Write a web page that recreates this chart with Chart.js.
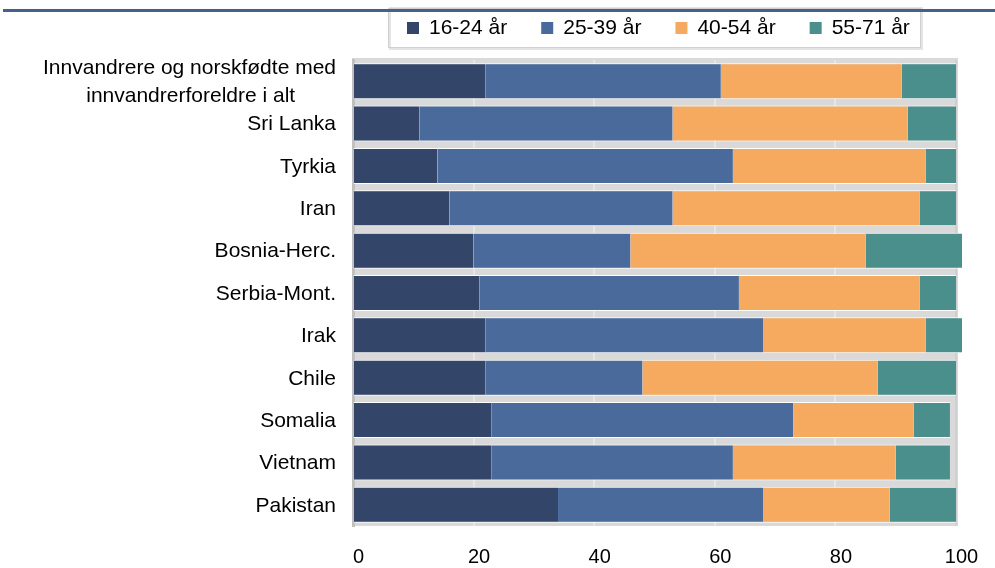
<!DOCTYPE html>
<html>
<head>
<meta charset="utf-8">
<script src="https://cdn.jsdelivr.net/npm/chart.js@4"></script>
<style>
  html, body { margin: 0; padding: 0; background: #fff; }
  #wrap { width: 995px; height: 568px; }
</style>
</head>
<body>
<div id="wrap"><canvas id="chart" width="995" height="568"></canvas></div>
<script>
// categories (top to bottom)
const categories = [
  ['Innvandrere og norskfødte med', 'innvandrerforeldre i alt'],
  'Sri Lanka', 'Tyrkia', 'Iran', 'Bosnia-Herc.', 'Serbia-Mont.',
  'Irak', 'Chile', 'Somalia', 'Vietnam', 'Pakistan'
];
const seriesNames = ['16-24 år', '25-39 år', '40-54 år', '55-71 år'];
const age16_24 = [22, 11, 14, 16, 20, 21, 22, 22, 23, 23, 34];
const age25_39 = [39, 42, 49, 37, 26, 43, 46, 26, 50, 40, 34];
const age40_54 = [30, 39, 32, 41, 39, 30, 27, 39, 20, 27, 21];
const age55_71 = [9, 8, 5, 6, 16, 6, 6, 13, 6, 9, 11];
const xTicks = [0, 20, 40, 60, 80, 100];

const colors = ['#334568', '#4a6a9b', '#f6aa5f', '#4a8f8c'];
const fontFamily = "'Liberation Sans', Arial, sans-serif";
Chart.defaults.font.family = fontFamily;

// multi-line label: pad the short line with spaces so it sits centred under the long one
const ctxMeasure = document.createElement('canvas').getContext('2d');
ctxMeasure.font = '21px ' + fontFamily;
const labels = categories.map(c => {
  if (!Array.isArray(c)) return c;
  const w0 = ctxMeasure.measureText(c[0]).width;
  const sp = ctxMeasure.measureText(' ').width;
  return c.map(line => {
    const n = Math.round((w0 - ctxMeasure.measureText(line).width) / 2 / sp);
    return line + ' '.repeat(Math.max(0, n));
  });
});

const plotBackground = {
  id: 'plotBackground',
  beforeDraw(chart) {
    const {ctx, chartArea: a} = chart;
    ctx.save();
    ctx.fillStyle = '#d9d9d9';
    ctx.fillRect(a.left - 1, a.top - 2, a.right - a.left + 3, a.bottom - a.top + 2);
    ctx.restore();
  }
};

const excelLegend = {
  id: 'excelLegend',
  afterDraw(chart) {
    const ctx = chart.ctx;
    ctx.save();
    // box
    ctx.fillStyle = '#ffffff';
    ctx.fillRect(388, 8, 533, 40);
    ctx.strokeStyle = '#e4e4e4';
    ctx.lineWidth = 2;
    ctx.strokeRect(390, 8, 532, 41);
    ctx.strokeStyle = '#d0d0d0';
    ctx.lineWidth = 1;
    ctx.strokeRect(388.5, 8.5, 532, 39);
    // blue rule on top
    ctx.fillStyle = '#44618b';
    ctx.fillRect(3, 9, 992, 3);
    // items
    ctx.font = '21px ' + fontFamily;
    ctx.textBaseline = 'middle';
    ctx.textAlign = 'left';
    let x = 407;
    chart.data.datasets.forEach(ds => {
      ctx.fillStyle = ds.backgroundColor;
      ctx.fillRect(x, 22, 12, 12);
      ctx.fillStyle = '#000';
      ctx.fillText(ds.label, x + 22, 28);
      x += 22 + ctx.measureText(ds.label).width + 34;
    });
    ctx.restore();
  }
};

const series = [age16_24, age25_39, age40_54, age55_71];

new Chart(document.getElementById('chart'), {
  type: 'bar',
  data: {
    labels: labels,
    datasets: series.map((d, i) => ({
      label: seriesNames[i],
      data: d,
      backgroundColor: colors[i],
      borderColor: '#ffffff',
      borderWidth: {top: 1, bottom: 1, left: 0, right: 0},
      borderSkipped: false,
      barPercentage: 0.85,
      categoryPercentage: 1,
      clip: false
    }))
  },
  options: {
    indexAxis: 'y',
    responsive: false,
    animation: false,
    layout: {padding: {top: 60, right: 39, left: 0, bottom: 0}},
    plugins: {
      legend: {display: false},
      tooltip: {enabled: false}
    },
    scales: {
      x: {
        stacked: true,
        min: 0,
        max: 100,
        afterBuildTicks: s => { s.ticks = xTicks.map(v => ({value: v})); },
        afterFit: s => { s.height = 42; s.paddingLeft = 0; s.paddingRight = 0; },
        ticks: {
          color: '#000',
          font: {size: 20},
          padding: 19,
          labelOffset: 5.5,
          maxRotation: 0
        },
        grid: {
          drawTicks: false,
          lineWidth: 2,
          color: c => (c.tick && c.tick.value === 100) ? '#cfcfcf' : '#e6e6e6'
        },
        border: {display: false}
      },
      y: {
        stacked: true,
        afterFit: s => { s.width = 353; s.paddingTop = 0; s.paddingBottom = 0; },
        ticks: {
          color: '#000',
          font: {size: 21, lineHeight: 1.36},
          padding: 17,
          labelOffset: 1,
          autoSkip: false
        },
        grid: {display: false, drawTicks: false},
        border: {color: '#c0c0c0', width: 3}
      }
    }
  },
  plugins: [plotBackground, excelLegend]
});
</script>
</body>
</html>
